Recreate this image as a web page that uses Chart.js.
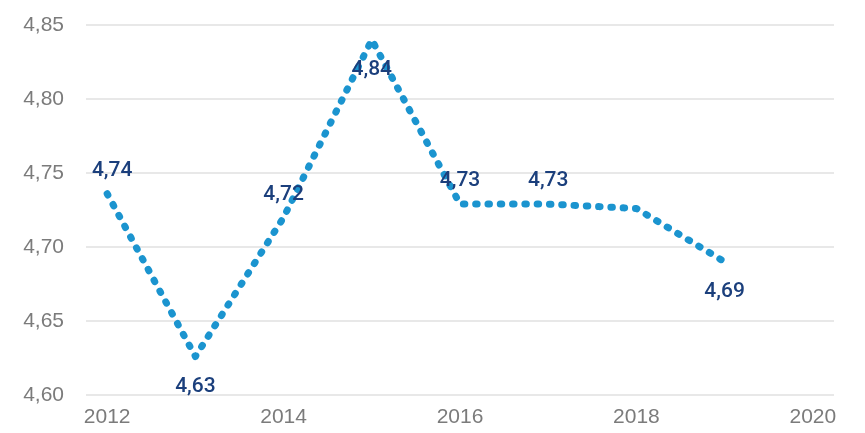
<!DOCTYPE html>
<html>
<head>
<meta charset="utf-8">
<script src="https://cdn.jsdelivr.net/npm/chart.js@4"></script>
<style>
  html, body { margin: 0; padding: 0; background: #ffffff; }
  #wrap { width: 865px; height: 433px; position: relative; }
</style>
</head>
<body>
<div id="wrap"><canvas id="c"></canvas></div>
<script>
// Data
const years = [2012, 2013, 2014, 2015, 2016, 2017, 2018, 2019];
const values = [4.736, 4.626, 4.72, 4.84, 4.729, 4.729, 4.726, 4.69];
const valueLabels = ['4,74', '4,63', '4,72', '4,84', '4,73', '4,73', '', '4,69'];
const xTicks = [2012, 2014, 2016, 2018, 2020];
const yTicks = [4.60, 4.65, 4.70, 4.75, 4.80, 4.85];

// Label placement (style, not data)
const labelSide = ['above', 'below', 'above', 'below', 'above', 'above', 'none', 'below'];

const pointLabels = {
  id: 'pointLabels',
  afterDatasetsDraw(chart) {
    const ctx = chart.ctx;
    const meta = chart.getDatasetMeta(0);
    ctx.save();
    ctx.font = '500 21px Roboto, "Liberation Sans", sans-serif';
    ctx.fillStyle = '#1b3f7c';
    ctx.textAlign = 'center';
    ctx.textBaseline = 'middle';
    meta.data.forEach((pt, i) => {
      const side = labelSide[i];
      if (side === 'none' || !valueLabels[i]) return;
      const dy = side === 'above' ? -23 : 30;
      const dx = i === 0 ? 5 : 0;
      ctx.fillText(valueLabels[i], pt.x + dx, pt.y + dy);
    });
    ctx.restore();
  }
};

new Chart(document.getElementById('c'), {
  type: 'line',
  data: {
    datasets: [{
      data: years.map((y, i) => ({ x: y, y: values[i] })),
      borderColor: '#1b94cf',
      borderWidth: 7,
      borderDash: [1.5, 10.8],
      borderCapStyle: 'round',
      borderJoinStyle: 'round',
      tension: 0,
      pointRadius: 0,
      fill: false
    }]
  },
  options: {
    responsive: true,
    maintainAspectRatio: false,
    animation: false,
    layout: { padding: { top: 25, right: 31, bottom: 0, left: 0 } },
    plugins: { legend: { display: false }, tooltip: { enabled: false } },
    scales: {
      x: {
        type: 'linear',
        min: 2011.76,
        max: 2020.24,
        afterBuildTicks(axis) { axis.ticks = xTicks.map(v => ({ value: v })); },
        afterFit(axis) { axis.height = 38; axis.paddingLeft = 0; axis.paddingRight = 0; },
        grid: { display: false, drawTicks: false },
        border: { display: false },
        ticks: {
          color: '#7b7b7b',
          font: { family: '"Liberation Sans", sans-serif', size: 21 },
          padding: 10,
          maxRotation: 0,
          callback: v => String(v)
        }
      },
      y: {
        min: 4.60,
        max: 4.85,
        afterBuildTicks(axis) { axis.ticks = yTicks.map(v => ({ value: v })); },
        afterFit(axis) { axis.width = 86; axis.paddingTop = 0; axis.paddingBottom = 0; },
        grid: { color: '#e8e8e8', lineWidth: 2, drawTicks: false },
        border: { display: false },
        ticks: {
          color: '#7b7b7b',
          font: { family: '"Liberation Sans", sans-serif', size: 21 },
          padding: 22,
          callback: v => v.toFixed(2).replace('.', ',')
        }
      }
    }
  },
  plugins: [pointLabels]
});
</script>
</body>
</html>
